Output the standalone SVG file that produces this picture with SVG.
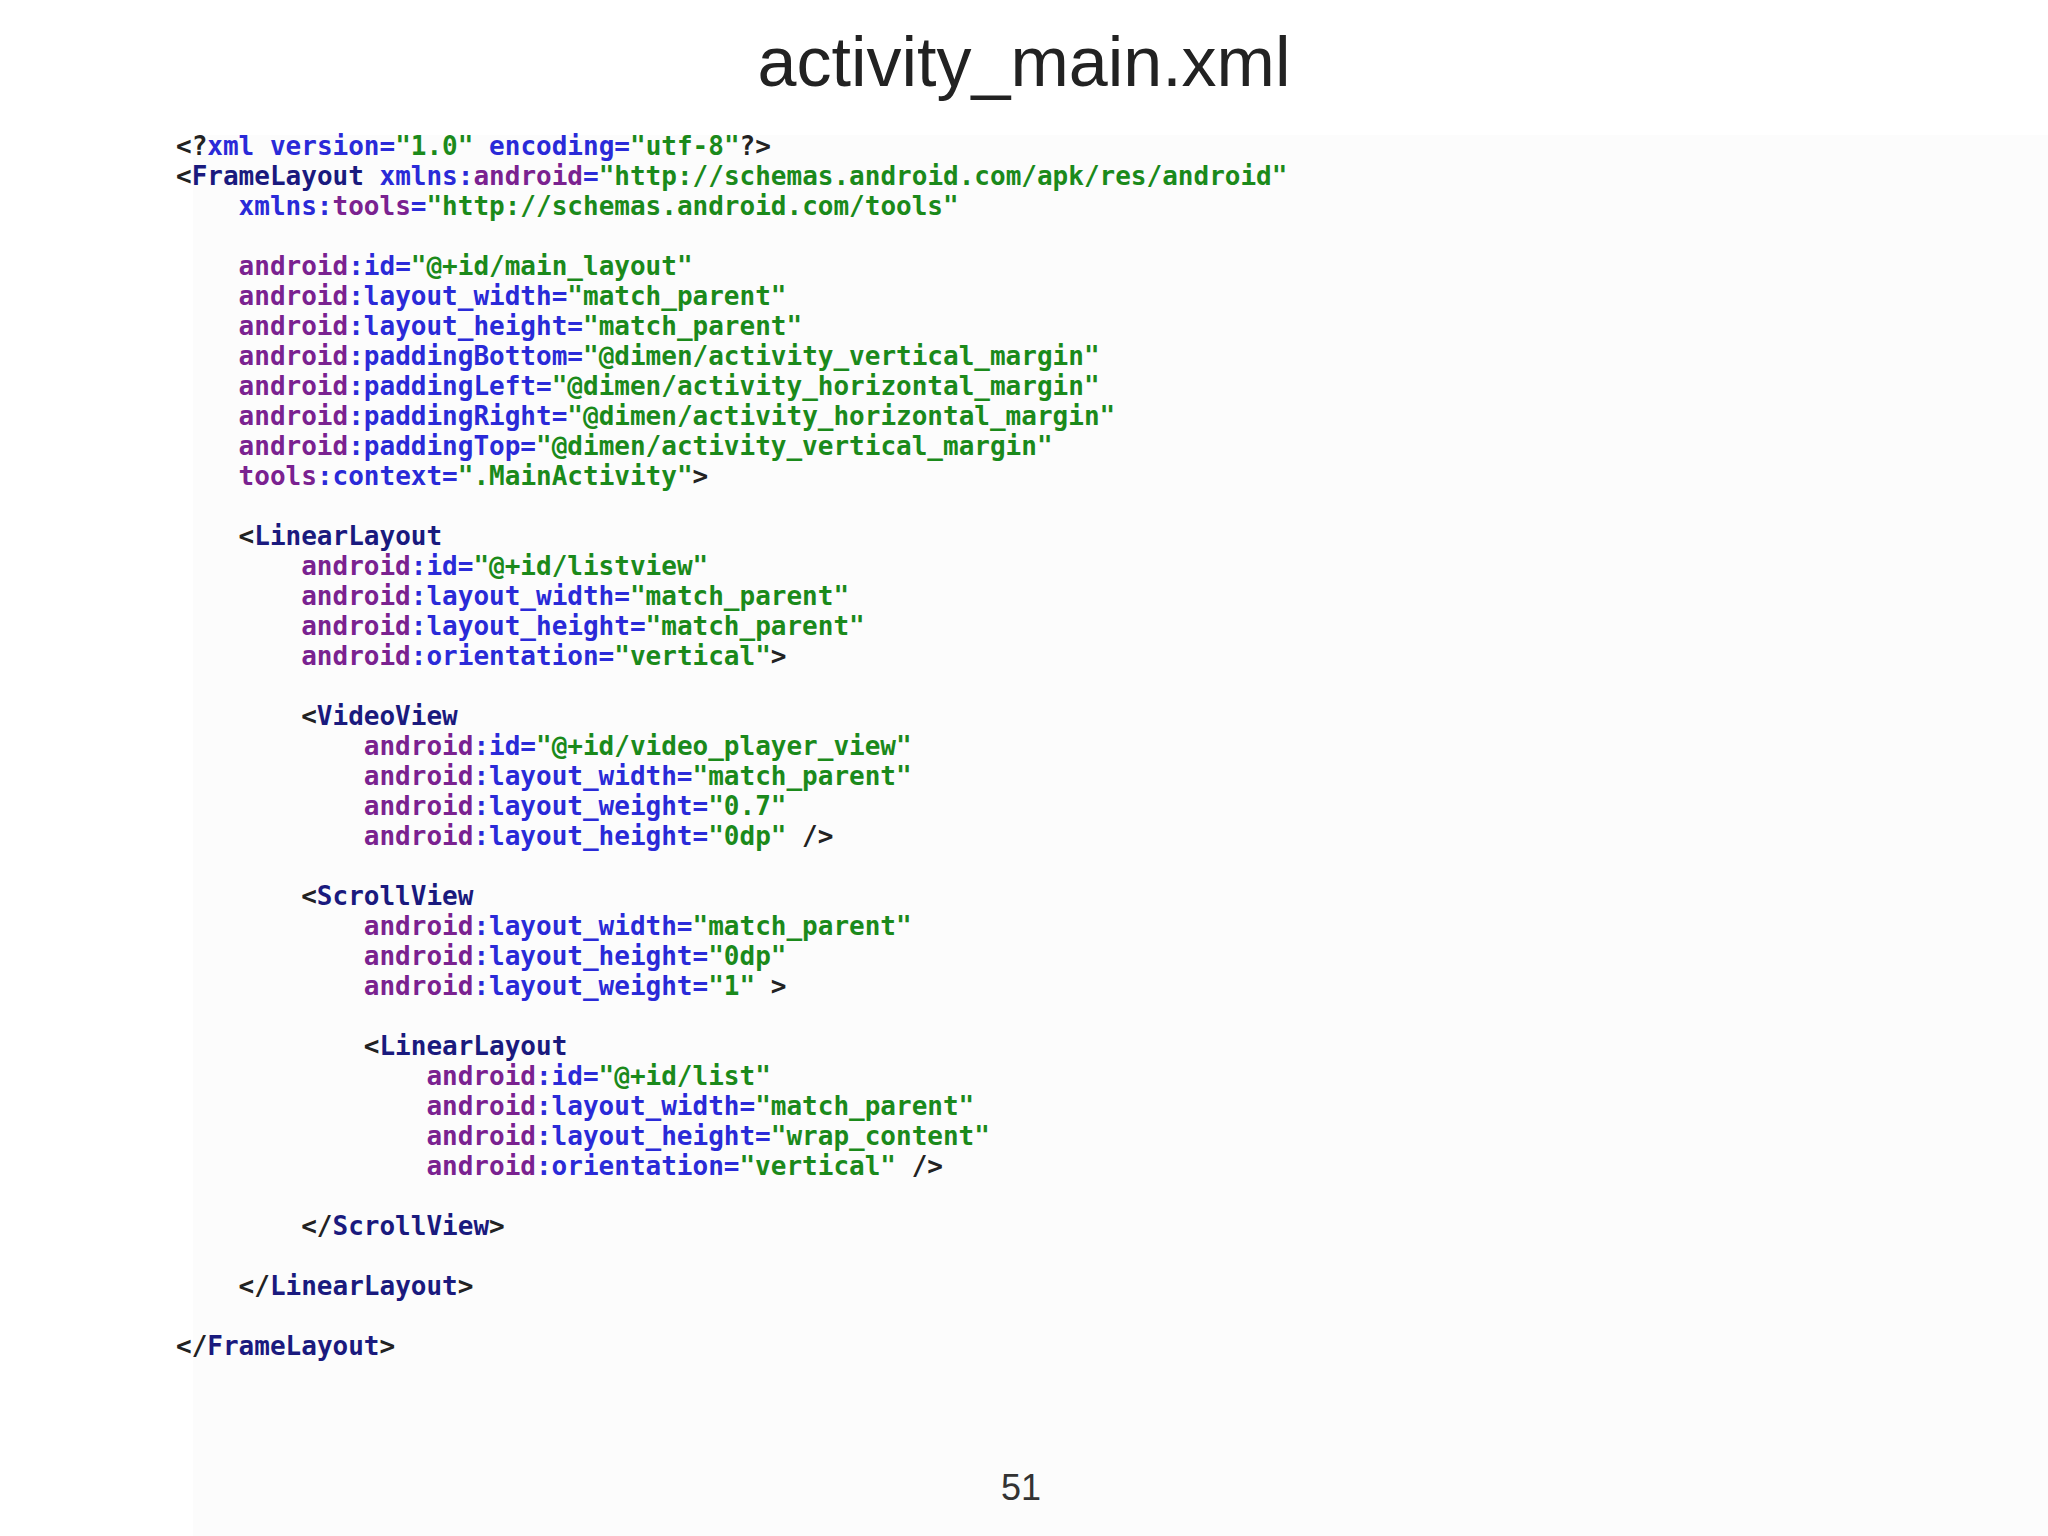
<svg xmlns="http://www.w3.org/2000/svg" width="2048" height="1536" viewBox="0 0 2048 1536">
<style>
.c{font-family:"DejaVu Sans Mono","Liberation Mono",monospace;font-size:26px;font-weight:bold}
.t{fill:#222}.n{fill:#1a1a7e}.a{fill:#2a2ad8}.p{fill:#7a2290}.s{fill:#1b8a1b}
</style>
<rect width="2048" height="1536" fill="#fff"/>
<rect x="193" y="135" width="1855" height="1401" fill="#fcfcfc"/>
<text x="1024" y="86" text-anchor="middle" font-family="Liberation Sans,Arial,sans-serif" font-size="70" fill="#222">activity_main.xml</text>
<text x="1021" y="1500" text-anchor="middle" font-family="Liberation Sans,Arial,sans-serif" font-size="36" fill="#333">51</text>
<g id="code" class="c" xml:space="preserve">
<text x="176" y="155"><tspan class="t">&lt;?</tspan><tspan class="a">xml version=</tspan><tspan class="s">"1.0"</tspan><tspan class="a"> encoding=</tspan><tspan class="s">"utf-8"</tspan><tspan class="t">?&gt;</tspan></text>
<text x="176" y="185"><tspan class="t">&lt;</tspan><tspan class="n">FrameLayout</tspan><tspan class="a"> xmlns:</tspan><tspan class="p">android</tspan><tspan class="a">=</tspan><tspan class="s">"http://schemas.android.com/apk/res/android"</tspan></text>
<text x="238.6" y="215"><tspan class="a">xmlns:</tspan><tspan class="p">tools</tspan><tspan class="a">=</tspan><tspan class="s">"http://schemas.android.com/tools"</tspan></text>
<text x="238.6" y="275"><tspan class="p">android</tspan><tspan class="a">:id=</tspan><tspan class="s">"@+id/main_layout"</tspan></text>
<text x="238.6" y="305"><tspan class="p">android</tspan><tspan class="a">:layout_width=</tspan><tspan class="s">"match_parent"</tspan></text>
<text x="238.6" y="335"><tspan class="p">android</tspan><tspan class="a">:layout_height=</tspan><tspan class="s">"match_parent"</tspan></text>
<text x="238.6" y="365"><tspan class="p">android</tspan><tspan class="a">:paddingBottom=</tspan><tspan class="s">"@dimen/activity_vertical_margin"</tspan></text>
<text x="238.6" y="395"><tspan class="p">android</tspan><tspan class="a">:paddingLeft=</tspan><tspan class="s">"@dimen/activity_horizontal_margin"</tspan></text>
<text x="238.6" y="425"><tspan class="p">android</tspan><tspan class="a">:paddingRight=</tspan><tspan class="s">"@dimen/activity_horizontal_margin"</tspan></text>
<text x="238.6" y="455"><tspan class="p">android</tspan><tspan class="a">:paddingTop=</tspan><tspan class="s">"@dimen/activity_vertical_margin"</tspan></text>
<text x="238.6" y="485"><tspan class="p">tools</tspan><tspan class="a">:context=</tspan><tspan class="s">".MainActivity"</tspan><tspan class="t">&gt;</tspan></text>
<text x="238.6" y="545"><tspan class="t">&lt;</tspan><tspan class="n">LinearLayout</tspan></text>
<text x="301.2" y="575"><tspan class="p">android</tspan><tspan class="a">:id=</tspan><tspan class="s">"@+id/listview"</tspan></text>
<text x="301.2" y="605"><tspan class="p">android</tspan><tspan class="a">:layout_width=</tspan><tspan class="s">"match_parent"</tspan></text>
<text x="301.2" y="635"><tspan class="p">android</tspan><tspan class="a">:layout_height=</tspan><tspan class="s">"match_parent"</tspan></text>
<text x="301.2" y="665"><tspan class="p">android</tspan><tspan class="a">:orientation=</tspan><tspan class="s">"vertical"</tspan><tspan class="t">&gt;</tspan></text>
<text x="301.2" y="725"><tspan class="t">&lt;</tspan><tspan class="n">VideoView</tspan></text>
<text x="363.8" y="755"><tspan class="p">android</tspan><tspan class="a">:id=</tspan><tspan class="s">"@+id/video_player_view"</tspan></text>
<text x="363.8" y="785"><tspan class="p">android</tspan><tspan class="a">:layout_width=</tspan><tspan class="s">"match_parent"</tspan></text>
<text x="363.8" y="815"><tspan class="p">android</tspan><tspan class="a">:layout_weight=</tspan><tspan class="s">"0.7"</tspan></text>
<text x="363.8" y="845"><tspan class="p">android</tspan><tspan class="a">:layout_height=</tspan><tspan class="s">"0dp"</tspan><tspan class="t"> /&gt;</tspan></text>
<text x="301.2" y="905"><tspan class="t">&lt;</tspan><tspan class="n">ScrollView</tspan></text>
<text x="363.8" y="935"><tspan class="p">android</tspan><tspan class="a">:layout_width=</tspan><tspan class="s">"match_parent"</tspan></text>
<text x="363.8" y="965"><tspan class="p">android</tspan><tspan class="a">:layout_height=</tspan><tspan class="s">"0dp"</tspan></text>
<text x="363.8" y="995"><tspan class="p">android</tspan><tspan class="a">:layout_weight=</tspan><tspan class="s">"1"</tspan><tspan class="t"> &gt;</tspan></text>
<text x="363.8" y="1055"><tspan class="t">&lt;</tspan><tspan class="n">LinearLayout</tspan></text>
<text x="426.4" y="1085"><tspan class="p">android</tspan><tspan class="a">:id=</tspan><tspan class="s">"@+id/list"</tspan></text>
<text x="426.4" y="1115"><tspan class="p">android</tspan><tspan class="a">:layout_width=</tspan><tspan class="s">"match_parent"</tspan></text>
<text x="426.4" y="1145"><tspan class="p">android</tspan><tspan class="a">:layout_height=</tspan><tspan class="s">"wrap_content"</tspan></text>
<text x="426.4" y="1175"><tspan class="p">android</tspan><tspan class="a">:orientation=</tspan><tspan class="s">"vertical"</tspan><tspan class="t"> /&gt;</tspan></text>
<text x="301.2" y="1235"><tspan class="t">&lt;/</tspan><tspan class="n">ScrollView</tspan><tspan class="t">&gt;</tspan></text>
<text x="238.6" y="1295"><tspan class="t">&lt;/</tspan><tspan class="n">LinearLayout</tspan><tspan class="t">&gt;</tspan></text>
<text x="176" y="1355"><tspan class="t">&lt;/</tspan><tspan class="n">FrameLayout</tspan><tspan class="t">&gt;</tspan></text>
</g>
</svg>
